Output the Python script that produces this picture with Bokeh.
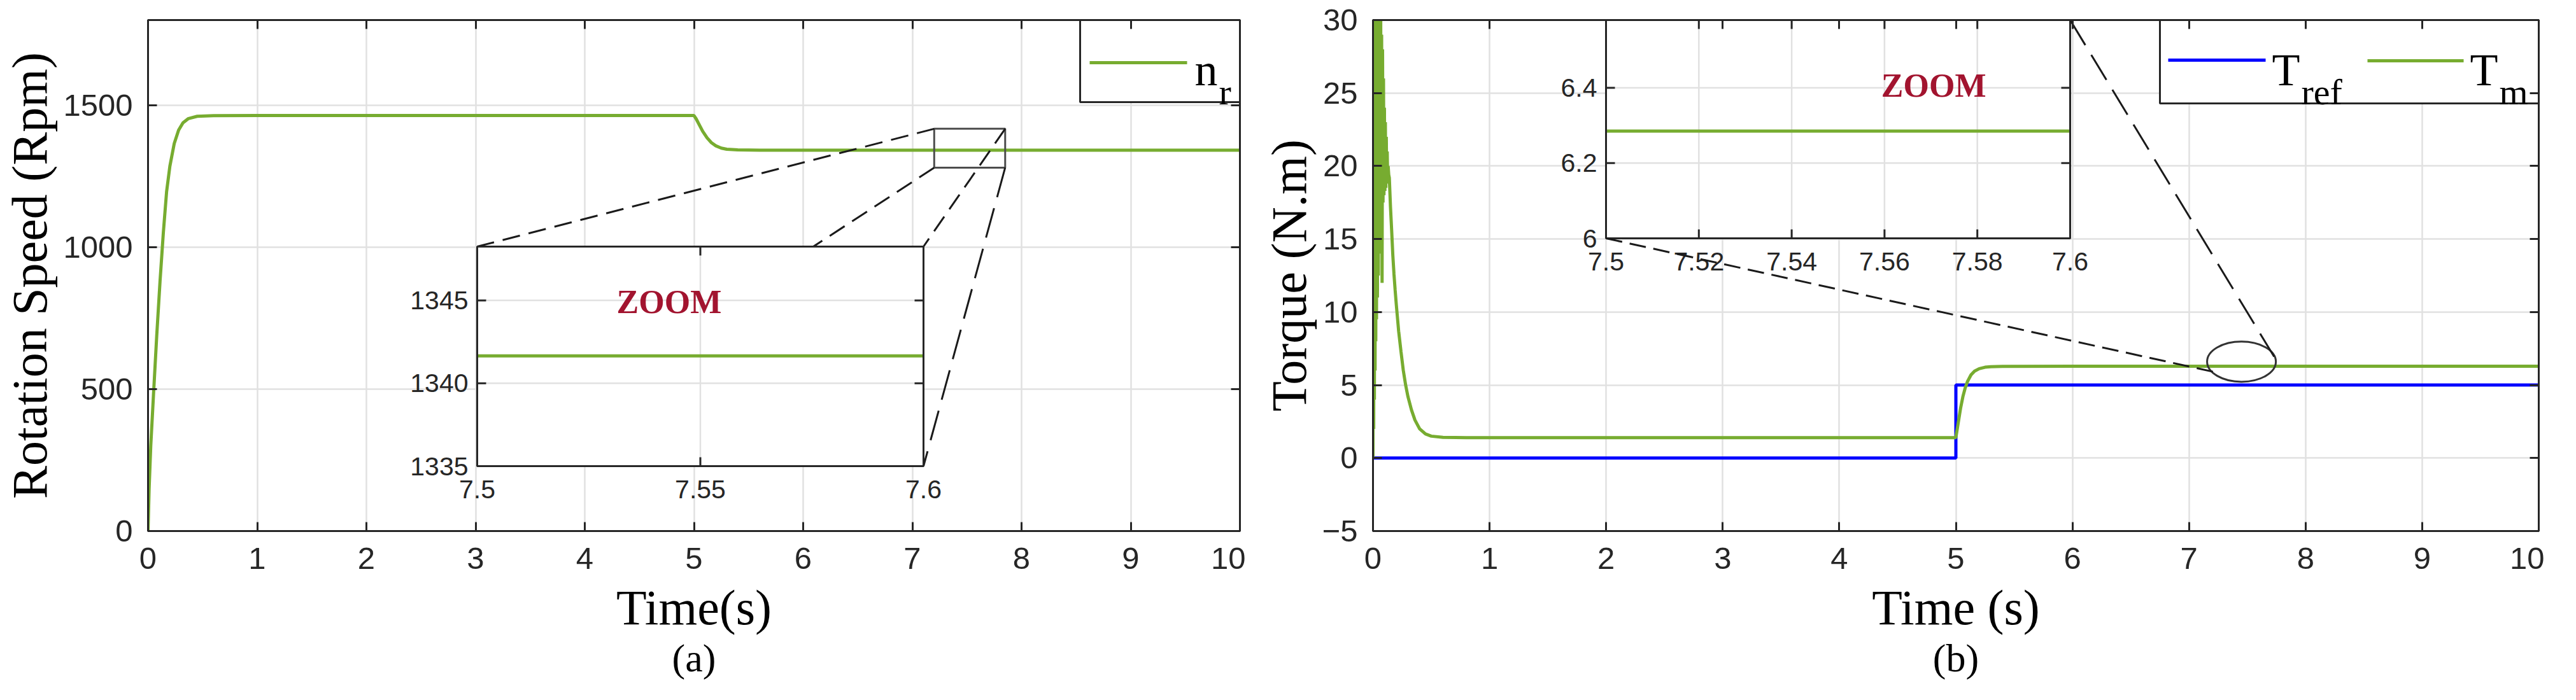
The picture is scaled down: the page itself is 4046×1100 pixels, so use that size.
import numpy as np
from bokeh.plotting import figure
from bokeh.layouts import row
from bokeh.models import Range1d, FixedTicker, LinearAxis, Title
from bokeh.core.properties import value
from bokeh.embed import file_html
from bokeh.resources import INLINE

# ---------------- data ----------------
time_ticks = [0, 1, 2, 3, 4, 5, 6, 7, 8, 9, 10]
speed_ticks = [0, 500, 1000, 1500]
torque_ticks = [-5, 0, 5, 10, 15, 20, 25, 30]

speed_time = [0, 0.01, 0.025, 0.05, 0.08, 0.11, 0.14, 0.17, 0.2, 0.24,
              0.28, 0.32, 0.37, 0.45, 0.6, 1.0, 2.0, 3.0, 4.0, 5.0,
              5.02, 5.05, 5.08, 5.12, 5.16, 5.2, 5.25, 5.3, 5.4, 5.6,
              6.0, 7.0, 7.5, 7.6, 8.0, 9.0, 10.0]
speed_rpm = [0, 150, 300, 480, 690, 880, 1050, 1195, 1285, 1365,
             1412, 1438, 1453, 1461, 1463, 1463.5, 1463.5, 1463.5, 1463.5, 1463.5,
             1452, 1430, 1408, 1385, 1368, 1357, 1349, 1345, 1342.5, 1341.8,
             1341.65, 1341.65, 1341.65, 1341.65, 1341.65, 1341.65, 1341.65]

torque_time = [0, .003, .006, .009, .012, .015, .018, .021, .024, .027,
               .030, .034, .038, .042, .046, .050, .054, .058, .062, .066,
               .070, .074, .078, .082, .086, .090, .094, .098, .102, .106,
               .110, .114, .118, .122, .126, .130, .135, .14,
               .15, .16, .17, .18, .19, .20, .22, .24, .26, .28,
               .30, .33, .36, .40, .45, .5, .6, .8, 2.0, 4.0,
               5.0, 5.02, 5.04, 5.06, 5.08, 5.1, 5.13, 5.16, 5.2, 5.25,
               5.3, 5.4, 6.0, 7.5, 7.6, 10.0]
torque_m = [0, 34, 2, 34, 4, 34, 6, 34, 8, 33,
            9.5, 33, 11, 33, 12.5, 32, 14, 32, 15, 31,
            16, 29, 12, 28, 17.5, 26, 18, 24, 18.3, 23,
            18.5, 22, 18.8, 21, 19, 20, 19.4, 19.2,
            17.2, 15.6, 13.9, 12.6, 11.5, 10.5, 8.7, 7.3, 6.0, 5.0,
            4.2, 3.3, 2.6, 2.0, 1.65, 1.5, 1.42, 1.4, 1.4, 1.4,
            1.4, 2.4, 3.4, 4.2, 4.8, 5.25, 5.7, 5.95, 6.12, 6.22,
            6.26, 6.28, 6.285, 6.285, 6.285, 6.285]
tref_time = [0, 5, 5, 10]
tref_val = [0, 0, 5, 5]

zoom_a_xlim = [7.5, 7.6]
zoom_a_ylim = [1335, 1348.25]
zoom_a_xticks = [7.5, 7.55, 7.6]
zoom_a_xlabels = ["7.5", "7.55", "7.6"]
zoom_a_yticks = [1335, 1340, 1345]
zoom_a_ylabels = ["1335", "1340", "1345"]
zoom_a_mark = [7.2, 7.85, 1280, 1417]          # marked region (x0, x1, y0, y1)

zoom_b_xlim = [7.5, 7.6]
zoom_b_ylim = [6.0, 6.58]
zoom_b_xticks = [7.5, 7.52, 7.54, 7.56, 7.58, 7.6]
zoom_b_xlabels = ["7.5", "7.52", "7.54", "7.56", "7.58", "7.6"]
zoom_b_yticks = [6.0, 6.2, 6.4]
zoom_b_ylabels = ["6", "6.2", "6.4"]
zoom_b_ellipse = [7.45, 6.6, 0.59, 2.75]        # x, y, width, height
zoom_b_ends = [[7.73, 6.94], [7.24, 5.85]]

# ---------------- styles ----------------
GREEN = "#77AC30"
BLUE = "#0000FF"
AX = "#262626"
GRID = "#e1e1e1"
ZOOMC = "#A2142F"
SERIF = "Liberation Serif"
SANS = "Liberation Sans"
TICK = 14


def span_range(lo, hi, f0, f1):
    s = (hi - lo) / (f1 - f0)
    st = lo - f0 * s
    return Range1d(st, st + s)


def frac_box(F, box):
    l, t, r, b = box
    return ((l - F["left"]) / F["w"], (r - F["left"]) / F["w"],
            (F["top"] + F["h"] - b) / F["h"], (F["top"] + F["h"] - t) / F["h"])


def fpt(F, px, py):
    return (px - F["left"]) / F["w"], (F["top"] + F["h"] - py) / F["h"]


def d2f(p, x, y):
    return ((x - p.x_range.start) / (p.x_range.end - p.x_range.start),
            (y - p.y_range.start) / (p.y_range.end - p.y_range.start))


def make_main(borders, F, yr, yticks, xlabel, ylabel, caption):
    l, r, t, b = borders
    p = figure(frame_width=F["w"], frame_height=F["h"], x_range=Range1d(0, 10),
               y_range=Range1d(*yr), output_backend="svg", toolbar_location=None,
               title=None, min_border_left=l, min_border_right=r,
               min_border_top=t, min_border_bottom=b,
               background_fill_color="white", border_fill_color="white")
    p.outline_line_color = AX
    p.outline_line_width = 3
    p.xaxis.ticker = FixedTicker(ticks=time_ticks)
    p.yaxis.ticker = FixedTicker(ticks=yticks)
    p.xaxis.axis_label = xlabel
    p.yaxis.axis_label = ylabel
    for ax in (p.xaxis[0], p.yaxis[0]):
        ax.axis_label_text_font = SERIF
        ax.axis_label_text_font_size = "78px"
        ax.axis_label_text_font_style = "normal"
        ax.axis_label_text_color = "black"
        ax.major_label_text_font = SANS
        ax.major_label_text_font_size = "49px"
        ax.major_label_text_color = AX
        ax.axis_line_color = AX
        ax.axis_line_width = 3
        ax.major_tick_in = TICK
        ax.major_tick_out = 0
        ax.major_tick_line_color = AX
        ax.major_tick_line_width = 3
        ax.minor_tick_line_color = None
    p.xaxis[0].major_label_standoff = 26
    p.yaxis[0].major_label_standoff = 24
    p.xaxis[0].axis_label_standoff = 14
    p.yaxis[0].axis_label_standoff = 6
    p.xgrid.grid_line_color = GRID
    p.ygrid.grid_line_color = GRID
    p.xgrid.grid_line_width = 2.5
    p.ygrid.grid_line_width = 2.5
    for side, ticks in (("above", time_ticks), ("right", yticks)):
        m = LinearAxis(ticker=FixedTicker(ticks=ticks), major_label_text_font_size="0px",
                       major_label_text_color=None, major_label_standoff=0,
                       major_tick_in=TICK, major_tick_out=0, major_tick_line_color=AX,
                       major_tick_line_width=3, minor_tick_line_color=None,
                       axis_line_color=AX, axis_line_width=3)
        p.add_layout(m, side)
    p.add_layout(Title(text=caption, align="center", text_font=SERIF, text_font_size="62px",
                       text_font_style="normal", text_color="black", standoff=-5), "below")
    return p


def draw_inset(p, F, box, xlim, ylim, xt, xl, yt, yl, lines, zoom_xy):
    fx0, fx1, fy0, fy1 = frac_box(F, box)
    p.extra_x_ranges = {"fx": Range1d(0, 1), "ix": span_range(xlim[0], xlim[1], fx0, fx1)}
    p.extra_y_ranges = {"fy": Range1d(0, 1), "iy": span_range(ylim[0], ylim[1], fy0, fy1)}
    kw = dict(x_range_name="ix", y_range_name="iy")
    p.quad(left=[xlim[0]], right=[xlim[1]], bottom=[ylim[0]], top=[ylim[1]],
           fill_color="white", line_color=None, **kw)
    n, m = len(xt), len(yt)
    p.segment(x0=xt, x1=xt, y0=[ylim[0]] * n, y1=[ylim[1]] * n, line_color=GRID, line_width=2.5, **kw)
    p.segment(x0=[xlim[0]] * m, x1=[xlim[1]] * m, y0=yt, y1=yt, line_color=GRID, line_width=2.5, **kw)
    for t, v, c in lines:
        t = np.asarray(t, dtype=float)
        v = np.asarray(v, dtype=float)
        k = (t >= xlim[0]) & (t <= xlim[1])
        p.line(t[k], v[k], line_color=c, line_width=5, **kw)
    bw = box[2] - box[0]
    bh = box[3] - box[1]
    lx = TICK * (xlim[1] - xlim[0]) / bw
    ly = TICK * (ylim[1] - ylim[0]) / bh
    tk = dict(line_color=AX, line_width=3, **kw)
    p.segment(x0=xt, x1=xt, y0=[ylim[0]] * n, y1=[ylim[0] + ly] * n, **tk)
    p.segment(x0=xt, x1=xt, y0=[ylim[1]] * n, y1=[ylim[1] - ly] * n, **tk)
    p.segment(x0=[xlim[0]] * m, x1=[xlim[0] + lx] * m, y0=yt, y1=yt, **tk)
    p.segment(x0=[xlim[1]] * m, x1=[xlim[1] - lx] * m, y0=yt, y1=yt, **tk)
    p.quad(left=[xlim[0]], right=[xlim[1]], bottom=[ylim[0]], top=[ylim[1]],
           fill_color=None, line_color=AX, line_width=3, **kw)
    lab = dict(text_font=value(SANS), text_font_size="41px", text_color=AX, **kw)
    p.text(x=xt, y=[ylim[0]] * n, text=xl, text_align="center", text_baseline="top",
           y_offset=22, **lab)
    p.text(x=[xlim[0]] * m, y=yt, text=yl, text_align="right", text_baseline="middle",
           x_offset=-14, **lab)
    p.text(x=[zoom_xy[0]], y=[zoom_xy[1]], text=["ZOOM"], text_align="center",
           text_baseline="alphabetic", text_font=value(SERIF), text_font_size="52px",
           text_font_style="bold", text_color=ZOOMC, **kw)
    return fx0, fx1, fy0, fy1


def legend_box(p, F, box, entries):
    kw = dict(x_range_name="fx", y_range_name="fy")
    fx0, fx1, fy0, fy1 = frac_box(F, box)
    p.quad(left=[fx0], right=[fx1], bottom=[fy0], top=[fy1], fill_color="white",
           line_color=AX, line_width=3, **kw)
    for (lx0, lx1, ly), color, (tx, ty, main), (sx, sy, sub) in entries:
        a = fpt(F, lx0, ly)
        b = fpt(F, lx1, ly)
        p.line([a[0], b[0]], [a[1], b[1]], line_color=color, line_width=5, **kw)
        q = fpt(F, tx, ty)
        p.text(x=[q[0]], y=[q[1]], text=[main], text_font=value(SERIF), text_font_size="72px",
               text_baseline="alphabetic", text_align="left", text_color="black", **kw)
        s = fpt(F, sx, sy)
        p.text(x=[s[0]], y=[s[1]], text=[sub], text_font=value(SERIF), text_font_size="58px",
               text_baseline="alphabetic", text_align="left", text_color="black", **kw)


# ---------------- (a) rotation speed ----------------
FA = dict(left=236, top=39, w=1715, h=803)
pa = make_main((228, 9, 31, 250), FA, (0, 1800), speed_ticks,
               "Time(s)", "Rotation Speed (Rpm)", "(a)")
pa.line(speed_time, speed_rpm, line_color=GREEN, line_width=5)
x0, x1, y0, y1 = zoom_a_mark
pa.quad(left=[x0], right=[x1], bottom=[y0], top=[y1], fill_color=None,
        line_color="#4d4d4d", line_width=3)

box_a = (753, 395, 1454, 740)
ia = frac_box(FA, box_a)
corners_mark = [d2f(pa, x0, y1), d2f(pa, x0, y0), d2f(pa, x1, y1), d2f(pa, x1, y0)]
corners_inset = [(ia[0], ia[3]), (ia[0], ia[2]), (ia[1], ia[3]), (ia[1], ia[2])]
dashes = ["28 14", "28 14", "28 14", "48 18"]

draw_inset(pa, FA, box_a, zoom_a_xlim, zoom_a_ylim, zoom_a_xticks, zoom_a_xlabels,
           zoom_a_yticks, zoom_a_ylabels, [(speed_time, speed_rpm, GREEN)], (7.543, 1344.9))
# connectors are drawn under the inset
conn_r = []
for a, b, d in zip(corners_mark, corners_inset, dashes):
    conn_r.append(pa.line([a[0], b[0]], [a[1], b[1]], line_color="#1a1a1a", line_width=3,
                          line_dash=d, x_range_name="fx", y_range_name="fy"))
rs = [r for r in pa.renderers if r not in conn_r]
pa.renderers = rs[:2] + conn_r + rs[2:]

legend_box(pa, FA, (1700, 39, 1951, 168),
           [((1715, 1868, 106), GREEN, (1880, 117, "n"), (1918, 152, "r"))])

# ---------------- (b) torque ----------------
FB = dict(left=2160, top=32, w=1831, h=803)
pb = make_main((200, 9, 24, 257), FB, (-5, 30), torque_ticks,
               "Time (s)", "Torque (N.m)", "(b)")
pb.line(tref_time, tref_val, line_color=BLUE, line_width=5)
pb.line(torque_time, torque_m, line_color=GREEN, line_width=5)
ex, ey, ew, eh = zoom_b_ellipse
pb.ellipse(x=[ex], y=[ey], width=[ew], height=[eh], fill_color=None,
           line_color="#333333", line_width=3)

box_b = (2526, 32, 3255, 375)
ib = draw_inset(pb, FB, box_b, zoom_b_xlim, zoom_b_ylim, zoom_b_xticks, zoom_b_xlabels,
                zoom_b_yticks, zoom_b_ylabels, [(torque_time, torque_m, GREEN)], (7.5706, 6.405))
e1 = d2f(pb, *zoom_b_ends[0])
e2 = d2f(pb, *zoom_b_ends[1])
pb.line([ib[1], e1[0]], [ib[3], e1[1]], line_color="#1a1a1a", line_width=3, line_dash="46 18",
        x_range_name="fx", y_range_name="fy")
pb.line([ib[0], e2[0]], [ib[2], e2[1]], line_color="#1a1a1a", line_width=3, line_dash="26 12",
        x_range_name="fx", y_range_name="fy")

legend_box(pb, FB, (3396, 32, 3991, 163),
           [((3409, 3562, 95), BLUE, (3572, 110, "T"), (3618, 145, "ref")),
            ((3722, 3873, 96), GREEN, (3883, 110, "T"), (3929, 145, "m"))])

layout = row(pa, pb)
open("out.html", "w").write(file_html(layout, INLINE))
